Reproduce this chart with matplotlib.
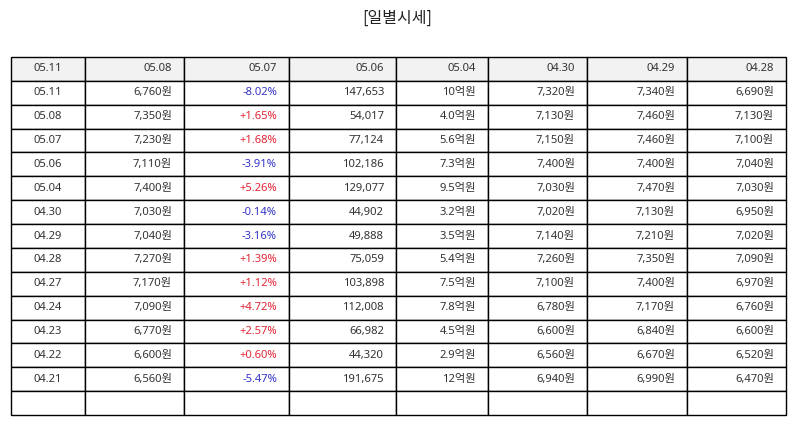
import matplotlib
matplotlib.use("Agg")
import matplotlib.pyplot as plt

plt.rcParams['font.family'] = ['Noto Sans', 'Noto Sans CJK KR', 'DejaVu Sans']

title = "[일별시세]"
header = ["05.11", "05.08", "05.07", "05.06", "05.04", "04.30", "04.29", "04.28"]
dates = ["05.11", "05.08", "05.07", "05.06", "05.04", "04.30", "04.29",
         "04.28", "04.27", "04.24", "04.23", "04.22", "04.21", ""]
close = ["6,760원", "7,350원", "7,230원", "7,110원", "7,400원", "7,030원", "7,040원",
         "7,270원", "7,170원", "7,090원", "6,770원", "6,600원", "6,560원", ""]
change = ["-8.02%", "+1.65%", "+1.68%", "-3.91%", "+5.26%", "-0.14%", "-3.16%",
          "+1.39%", "+1.12%", "+4.72%", "+2.57%", "+0.60%", "-5.47%", ""]
volume = ["147,653", "54,017", "77,124", "102,186", "129,077", "44,902", "49,888",
          "75,059", "103,898", "112,008", "66,982", "44,320", "191,675", ""]
amount = ["10억원", "4.0억원", "5.6억원", "7.3억원", "9.5억원", "3.2억원", "3.5억원",
          "5.4억원", "7.5억원", "7.8억원", "4.5억원", "2.9억원", "12억원", ""]
open_ = ["7,320원", "7,130원", "7,150원", "7,400원", "7,030원", "7,020원", "7,140원",
         "7,260원", "7,100원", "6,780원", "6,600원", "6,560원", "6,940원", ""]
high = ["7,340원", "7,460원", "7,460원", "7,400원", "7,470원", "7,130원", "7,210원",
        "7,350원", "7,400원", "7,170원", "6,840원", "6,670원", "6,990원", ""]
low = ["6,690원", "7,130원", "7,100원", "7,040원", "7,030원", "6,950원", "7,020원",
       "7,090원", "6,970원", "6,760원", "6,600원", "6,520원", "6,470원", ""]

W, H = 795, 425
fig = plt.figure(figsize=(W / 100, H / 100), dpi=100)
fig.text(397.5 / W, 1 - 18 / H, title, ha='center', va='center', fontsize=11.5,
         color='#222222', family=['Noto Sans CJK KR', 'DejaVu Sans'])

left, right, top, bottom = 10.5, 785.5, 57, 415
ax = fig.add_axes([left / W, 1 - bottom / H, (right - left) / W, (bottom - top) / H])
ax.axis('off')

col_px = [74, 99, 105, 107, 92, 99, 100, 99]
total = sum(col_px)
col_widths = [c / total for c in col_px]

rows = list(zip(dates, close, change, volume, amount, open_, high, low))
cell_text = [list(r) for r in rows]

tbl = ax.table(cellText=cell_text, colLabels=header, colWidths=col_widths,
               bbox=[0, 0, 1, 1], cellLoc='right')
tbl.auto_set_font_size(False)
tbl.set_fontsize(8.1)

RED = '#e32636'
BLUE = '#3535c8'
for (r, c), cell in tbl.get_celld().items():
    cell.set_edgecolor('black')
    cell.set_linewidth(1.0)
    cell.PAD = 11.5 / col_px[c]
    txt = cell.get_text()
    txt.set_color('#333333')
    if r == 0:
        cell.set_facecolor('#f2f2f2')
    else:
        cell.set_facecolor('white')
    if c == 0:
        cell._loc = 'center'
        txt.set_ha('center')
    else:
        cell._loc = 'right'
        txt.set_ha('right')
    if r > 0 and c == 2:
        s = change[r - 1]
        if s.startswith('+'):
            txt.set_color(RED)
        elif s.startswith('-'):
            txt.set_color(BLUE)

fig.savefig("out.png", dpi=100)
